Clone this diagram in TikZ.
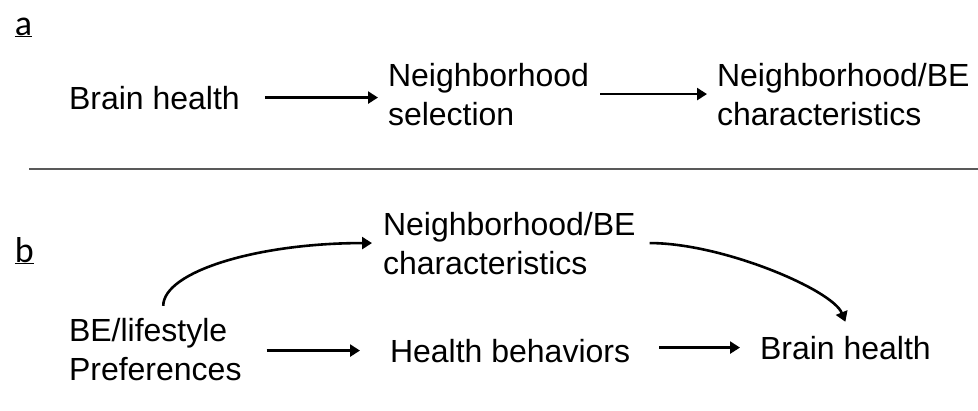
\documentclass[tikz,border=0pt]{standalone}
\usepackage{fontspec}
\setmainfont{Liberation Sans}
\newfontfamily\labfont{Carlito}
\usetikzlibrary{arrows.meta}
\begin{document}
\begin{tikzpicture}[x=1pt,y=-1pt,
  txt/.style={inner sep=0pt, outer sep=0pt, anchor=base west, font=\fontsize{32}{39}\selectfont, align=left},
  lab/.style={inner sep=0pt, outer sep=0pt, anchor=base west, font=\labfont\fontsize{36}{40}\selectfont},
  arr/.style={line width=2.6pt, -{Triangle[length=10pt,width=12pt]}},
  sep/.style={line width=1.5pt, draw=black!65}]
\useasboundingbox (0,0) rectangle (978,410);
% panel a
\node[lab] (la) at (15,35) {\underline{a}};
\node[txt] (bha) at (69,109) {Brain health};
\node[txt] (nsel) at (388,125) {Neighborhood\\selection};
\node[txt] (nbea) at (717,125) {Neighborhood/BE\\characteristics};
\draw[arr] ([xshift=25pt]bha.east) -- ([xshift=-10pt]nsel.west |- bha.east);
\draw[arr] ([xshift=11pt]nsel.east) -- ([xshift=-10pt]nbea.west |- nsel.east);
% separator
\coordinate (sepL) at (29,169);
\coordinate (sepR) at (978,169);
\draw[sep] (sepL) -- (sepR);
% panel b
\node[lab] (lb) at (15,262) {\underline{b}};
\node[txt] (pref) at (69,380) {BE/lifestyle\\Preferences};
\node[txt] (nbeb) at (383,274) {Neighborhood/BE\\characteristics};
\node[txt] (hb) at (390,362) {Health behaviors};
\node[txt] (bhb) at (760,359) {Brain health};
\draw[arr] ([xshift=25pt]pref.east |- hb.west) -- ([xshift=-30pt]hb.west);
\draw[arr] ([xshift=29pt]hb.east |- bhb.west) -- ([xshift=-20pt]bhb.west);
\draw[arr] ([xshift=8pt,yshift=12pt]pref.north) .. controls +(0,-34) and +(-115,0) .. ([xshift=-11pt]nbeb.west);
\draw[arr] ([xshift=14pt]nbeb.east) .. controls +(73,0) and +(-13,-32) .. ([yshift=14pt]bhb.north);
\end{tikzpicture}
\end{document}
